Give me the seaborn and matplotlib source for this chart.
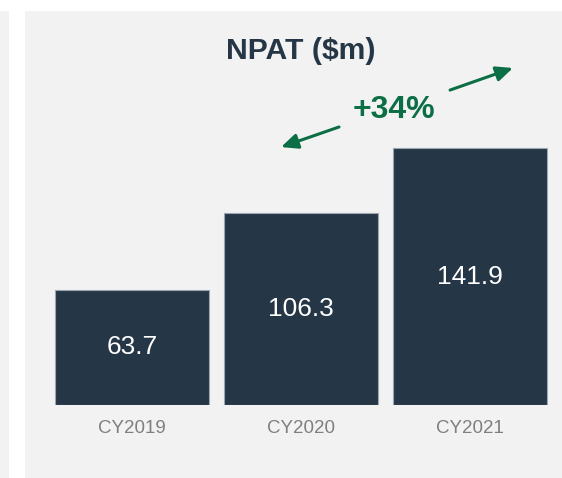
import matplotlib
matplotlib.use("Agg")
import matplotlib.pyplot as plt
from matplotlib.patches import Rectangle
import seaborn as sns

years = ["CY2019", "CY2020", "CY2021"]
npat = [63.7, 106.3, 141.9]
labels = ["63.7", "106.3", "141.9"]
growth = "+34%"

navy = "#253646"
green = "#0b6e45"

sns.set_style("white")
plt.rcParams['font.family'] = ['Liberation Sans', 'DejaVu Sans']

W, H = 562, 478
fig = plt.figure(figsize=(W / 100, H / 100), dpi=100)
fig.patch.set_facecolor("white")

# grey panels behind the chart
fig.patches.append(Rectangle((0, 0), 9 / W, 467 / H, transform=fig.transFigure,
                             facecolor="#f2f2f2", edgecolor="none", zorder=-5))
fig.patches.append(Rectangle((25 / W, 0), 537 / W, 467 / H, transform=fig.transFigure,
                             facecolor="#f2f2f2", edgecolor="none", zorder=-5))

ax = fig.add_axes([47.5 / W, 73 / H, 507 / W, 289.6 / H])
ax.set_facecolor("none")
ax.set_zorder(2)

sns.barplot(x=years, y=npat, color=navy, saturation=1, width=0.91,
            edgecolor="#9aa6b2", linewidth=0.8, ax=ax)

ax.bar_label(ax.containers[0], labels=labels, label_type="center",
             color="white", fontsize=19)

ax.set_xlim(-0.5, 2.5)
ax.set_ylim(0, 160)
sns.despine(ax=ax, left=True, bottom=True, top=True, right=True)
ax.set_yticks([])
ax.set_xlabel("")
ax.set_ylabel("")
ax.tick_params(axis="x", length=0, pad=11, labelsize=13.5, labelcolor="#7f7f7f")

fig.text(301 / W, 1 - 59 / H, "NPAT ($m)", ha="center", va="baseline",
         fontsize=21.7, fontweight="bold", color=navy)
fig.text(393.7 / W, 1 - 118 / H, growth, ha="center", va="baseline",
         fontsize=23, fontweight="bold", color=green)

arrow = dict(arrowstyle="-|>,head_length=1.0,head_width=0.45", color=green, lw=2.2,
             shrinkA=0, shrinkB=0)
ax.annotate("", xy=(0.882, 142.5), xytext=(1.225, 153.6), xycoords="data",
            arrowprops=arrow, annotation_clip=False)
ax.annotate("", xy=(2.254, 186.2), xytext=(1.882, 174.0), xycoords="data",
            arrowprops=arrow, annotation_clip=False)

fig.savefig("out.png", dpi=100)
